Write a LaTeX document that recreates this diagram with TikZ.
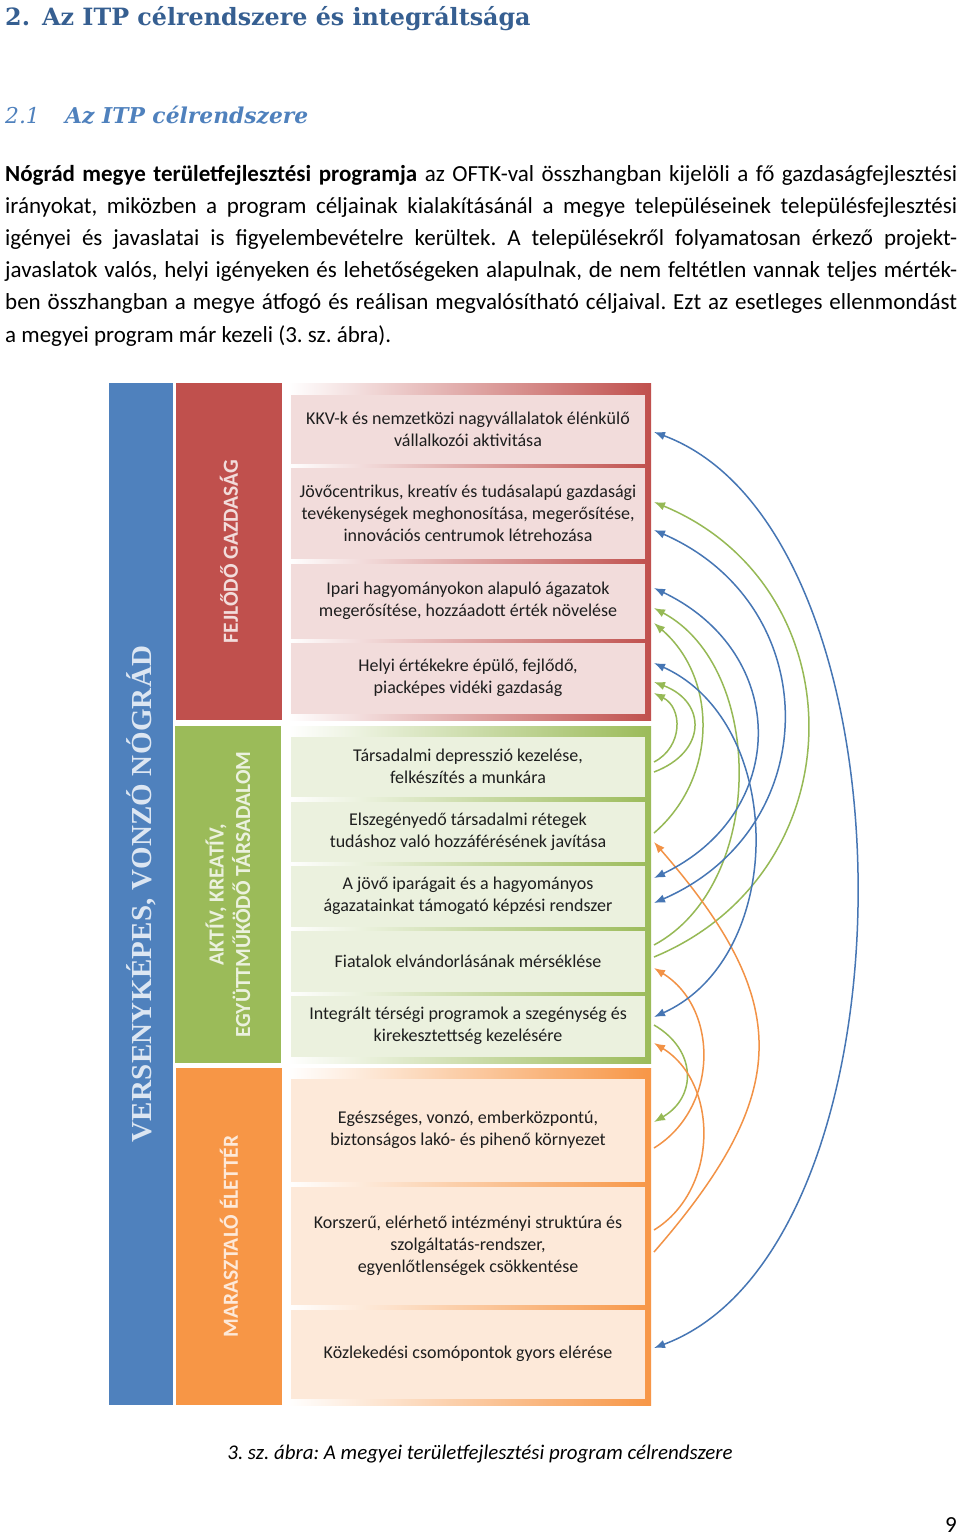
\documentclass[tikz,border=0pt]{standalone}
\usepackage{fontspec}
\setmainfont{Carlito}
\newfontfamily\headfont{DejaVu Serif}
\newfontfamily\vfont[LetterSpace=1]{Liberation Serif}
\usetikzlibrary{arrows.meta}
\definecolor{cBlue}{RGB}{79,129,189}
\definecolor{cRed}{RGB}{192,80,77}
\definecolor{cGreen}{RGB}{155,187,89}
\definecolor{cOrange}{RGB}{247,150,70}
\definecolor{cRedL}{RGB}{242,220,219}
\definecolor{cGreenL}{RGB}{235,241,222}
\definecolor{cOrangeL}{RGB}{253,233,217}
\definecolor{cBlueL}{RGB}{220,230,242}
\definecolor{cHead}{RGB}{54,95,145}
\definecolor{cSub}{RGB}{79,129,189}
\definecolor{cArcB}{RGB}{70,118,180}
\definecolor{cArcG}{RGB}{150,185,85}
\definecolor{cArcO}{RGB}{242,146,70}
\definecolor{cTxt}{RGB}{30,30,30}
\frenchspacing
\begin{document}
\begin{tikzpicture}[x=1pt,y=-1pt,
  goal/.style={inner sep=0pt, minimum width=354pt, align=center, text=cTxt,
    font=\fontsize{18}{22}\selectfont},
  rgoal/.style={goal, fill=cRedL},
  ggoal/.style={goal, fill=cGreenL},
  ogoal/.style={goal, fill=cOrangeL},
  pillar/.style={rotate=90, inner sep=0pt, align=center,
    font=\bfseries\fontsize{21.5}{26.5}\selectfont},
  body/.style={anchor=base west, inner sep=0pt, font=\fontsize{23}{32}\selectfont, text=black},
  link/.style={line width=1.5pt, -{Latex[length=11pt,width=8.5pt]}},
  dlink/.style={line width=1.5pt, {Latex[length=11pt,width=8.5pt]}-{Latex[length=11pt,width=8.5pt]}},
]
\path[use as bounding box, fill=white] (0,0) rectangle (960,1537);

% headings
\node[anchor=base west, inner sep=0pt, font=\headfont\bfseries\fontsize{23.8}{30}\selectfont, text=cHead] (title) at (5,25)
  {\makebox[37pt][l]{2.}Az ITP célrendszere és integráltsága};
\node[anchor=base west, inner sep=0pt, font=\headfont\itshape\fontsize{21.8}{28}\selectfont, text=cSub] (subtitle) at (5,123)
  {\makebox[60pt][l]{2.1}\bfseries Az ITP célrendszere};

% paragraph
\node[body] (p1) at (5,181) {\hbox to 952pt{\textbf{Nógrád megye területfejlesztési programja} az OFTK-val összhangban kijelöli a fő gazdaságfejlesztési}};
\node[body] (p2) at (5,213.2) {\hbox to 952pt{irányokat, miközben a program céljainak kialakításánál a megye településeinek településfejlesztési}};
\node[body] (p3) at (5,245.4) {\hbox to 952pt{igényei és javaslatai is figyelembevételre kerültek. A településekről folyamatosan érkező projekt-}};
\node[body] (p4) at (5,277.6) {\hbox to 952pt{javaslatok valós, helyi igényeken és lehetőségeken alapulnak, de nem feltétlen vannak teljes mérték-}};
\node[body] (p5) at (5,309.8) {\hbox to 952pt{ben összhangban a megye átfogó és reálisan megvalósítható céljaival. Ezt az esetleges ellenmondást}};
\node[body] (p6) at (5,342) {a megyei program már kezeli (3. sz. ábra).};

% pillars
\node[pillar, fill=cBlue, minimum width=1022pt, minimum height=64pt, text=cBlueL,
  font=\vfont\bfseries\fontsize{29}{30}\selectfont] (vbar) at (141,894) {VERSENYKÉPES, VONZÓ NÓGRÁD};
\node[pillar, fill=cRed, minimum width=337pt, minimum height=106pt, text=cRedL] (pRed) at (229,551.5) {FEJLŐDŐ GAZDASÁG};
\node[pillar, fill=cGreen, minimum width=337pt, minimum height=106pt, text=cGreenL] (pGreen) at (228,894.5) {AKTÍV, KREATÍV,\\EGYÜTTMŰKÖDŐ TÁRSADALOM};
\node[pillar, fill=cOrange, minimum width=337pt, minimum height=106pt, text=cOrangeL] (pOrange) at (229,1236.5) {MARASZTALÓ ÉLETTÉR};

% panels
\shade[left color=white, right color=cRed] (288,383) rectangle (651,720);
\shade[left color=white, right color=cGreen] (288,726) rectangle (651,1063);
\shade[left color=white, right color=cOrange] (288,1068) rectangle (651,1405);

\begin{scope}[every node/.append style={yshift=-1.5pt}]
% red goals
\node[rgoal, minimum height=69pt] (r1) at (468,427.5) {KKV-k és nemzetközi nagyvállalatok élénkülő\\vállalkozói aktivitása};
\node[rgoal, minimum height=91pt] (r2) at (468,511.5) {Jövőcentrikus, kreatív és tudásalapú gazdasági\\tevékenységek meghonosítása, megerősítése,\\innovációs centrumok létrehozása};
\node[rgoal, minimum height=75pt] (r3) at (468,599.5) {Ipari hagyományokon alapuló ágazatok\\megerősítése, hozzáadott érték növelése};
\node[rgoal, minimum height=71pt] (r4) at (468,676.5) {Helyi értékekre épülő, fejlődő,\\piacképes vidéki gazdaság};
% green goals
\node[ggoal, minimum height=60pt] (g1) at (468,765) {Társadalmi depresszió kezelése,\\felkészítés a munkára};
\node[ggoal, minimum height=60pt] (g2) at (468,830) {Elszegényedő társadalmi rétegek\\tudáshoz való hozzáférésének javítása};
\node[ggoal, minimum height=61pt] (g3) at (468,894.5) {A jövő iparágait és a hagyományos\\ágazatainkat támogató képzési rendszer};
\node[ggoal, minimum height=61pt] (g4) at (468,959.5) {Fiatalok elvándorlásának mérséklése};
\node[ggoal, minimum height=61pt] (g5) at (468,1024.5) {Integrált térségi programok a szegénység és\\kirekesztettség kezelésére};
% orange goals
\node[ogoal, minimum height=103pt] (o1) at (468,1128.5) {Egészséges, vonzó, emberközpontú,\\biztonságos lakó- és pihenő környezet};
\node[ogoal, minimum height=118pt] (o2) at (468,1244) {Korszerű, elérhető intézményi struktúra és\\szolgáltatás-rendszer,\\egyenlőtlenségek csökkentése};
\node[ogoal, minimum height=89pt] (o3) at (468,1352.5) {Közlekedési csomópontok gyors elérése};
\end{scope}

% connector end points
\coordinate (bA1) at (654,432);  \coordinate (bA2) at (654,1348);
\coordinate (bB1) at (654,530);  \coordinate (bB2) at (654,903);
\coordinate (bC1) at (654,588);  \coordinate (bC2) at (654,878);
\coordinate (bD1) at (654,663);  \coordinate (bD2) at (654,1017);
\coordinate (gA1) at (654,762);  \coordinate (gA2) at (654,693);
\coordinate (gB1) at (654,772);  \coordinate (gB2) at (654,682);
\coordinate (gC1) at (654,833);  \coordinate (gC2) at (654,623);
\coordinate (gD1) at (654,945);  \coordinate (gD2) at (654,608);
\coordinate (gE1) at (654,957);  \coordinate (gE2) at (654,502);
\coordinate (gF1) at (654,1025); \coordinate (gF2) at (654,1122);
\coordinate (oA1) at (654,1252); \coordinate (oA2) at (654,842);
\coordinate (oB1) at (654,1148); \coordinate (oB2) at (654,968);
\coordinate (oC1) at (654,1230); \coordinate (oC2) at (654,1043);

% green connectors
\draw[link, cArcG] (gA1) .. controls +(29,-15) and +(29,15) .. (gA2);
\draw[link, cArcG] (gB1) .. controls +(53,-20) and +(53,20) .. (gB2);
\draw[link, cArcG] (gC1) .. controls +(64,-55) and +(64,55) .. (gC2);
\draw[link, cArcG] (gD1) .. controls +(112,-60) and +(112,60) .. (gD2);
\draw[link, cArcG] (gE1) .. controls +(205,-85) and +(205,85) .. (gE2);
\draw[link, cArcG] (gF1) .. controls +(43,25) and +(43,-25) .. (gF2);
% orange connectors
\draw[link, cArcO] (oA1) .. controls +(139,-160) and +(139,160) .. (oA2);
\draw[link, cArcO] (oB1) .. controls +(65,-40) and +(65,40) .. (oB2);
\draw[link, cArcO] (oC1) .. controls +(65,-40) and +(65,40) .. (oC2);
% blue connectors
\draw[dlink, cArcB] (bA1) .. controls +(269,100) and +(269,-100) .. (bA2);
\draw[dlink, cArcB] (bB1) .. controls +(172,75) and +(172,-75) .. (bB2);
\draw[dlink, cArcB] (bC1) .. controls +(136,65) and +(136,-65) .. (bC2);
\draw[dlink, cArcB] (bD1) .. controls +(133,60) and +(133,-60) .. (bD2);

% caption and page number
\node[font=\itshape\fontsize{20.9}{24}\selectfont] (caption) at (480,1454) {3. sz. ábra: A megyei területfejlesztési program célrendszere};
\node[anchor=base east, inner sep=0pt, font=\fontsize{23}{24}\selectfont] (pagenum) at (957,1532) {9};
\end{tikzpicture}
\end{document}
